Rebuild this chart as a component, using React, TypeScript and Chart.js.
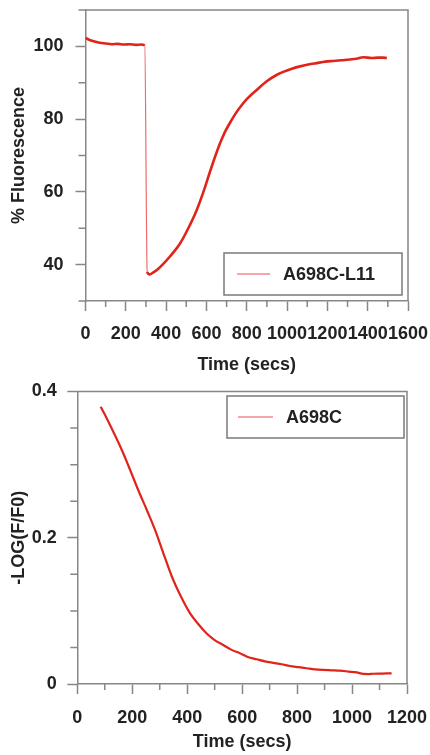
import React, { useEffect, useRef } from 'react';
import { Chart, registerables } from 'chart.js';

Chart.register(...registerables);

const FONT = "'Liberation Sans', Arial, Helvetica, sans-serif";
const AXIS_GRAY = '#878787';
const TEXT = '#222222';
const LINE_RED = '#e0241a';
const SAMPLE_RED = '#ec5050';

// ---------- Top panel: % Fluorescence vs time ----------
const topLabel = 'A698C-L11';
const topXTitle = 'Time (secs)';
const topYTitle = '% Fluorescence';
const topTime = [0, 15, 40, 70, 100, 130, 160, 190, 220, 250, 275, 294, 306, 318, 335, 360, 386, 420, 469, 510, 551, 585, 618, 645, 667, 692, 717, 742, 766, 800, 849, 899, 950, 981, 1020, 1064, 1105, 1147, 1190, 1229, 1270, 1312, 1345, 1378, 1420, 1450, 1477, 1495];
const topFluor = [102.3, 101.9, 101.4, 101.0, 100.8, 100.6, 100.7, 100.5, 100.6, 100.4, 100.5, 100.3, 38.0, 37.3, 37.8, 38.8, 40.2, 42.3, 45.8, 50.0, 54.9, 60.0, 65.6, 70.0, 73.3, 76.5, 79.0, 81.3, 83.2, 85.5, 88.0, 90.4, 92.2, 93.0, 93.8, 94.5, 95.0, 95.4, 95.8, 96.0, 96.2, 96.4, 96.6, 97.0, 96.8, 96.9, 96.9, 96.8];
const topXMajor = [0, 200, 400, 600, 800, 1000, 1200, 1400, 1600];
const topXMinor = [100, 300, 500, 700, 900, 1100, 1300, 1500];
const topYMajor = [40, 60, 80, 100];
const topYMinor = [30, 50, 70, 90, 110];

// ---------- Bottom panel: -LOG(F/F0) vs time ----------
const botLabel = 'A698C';
const botXTitle = 'Time (secs)';
const botYTitle = '-LOG(F/F0)';
const botTime = [85, 107, 131, 162, 192, 222, 253, 283, 313, 344, 374, 410, 440, 471, 500, 531, 560, 592, 620, 653, 683, 713, 744, 774, 805, 835, 865, 895, 926, 956, 987, 1017, 1041, 1060, 1077, 1110, 1144];
const botLog = [0.379, 0.3635, 0.345, 0.32, 0.293, 0.265, 0.238, 0.2107, 0.179, 0.147, 0.122, 0.097, 0.082, 0.069, 0.06, 0.0534, 0.047, 0.042, 0.037, 0.0338, 0.031, 0.029, 0.027, 0.0246, 0.023, 0.0215, 0.02, 0.0192, 0.0187, 0.0182, 0.017, 0.0158, 0.0138, 0.0136, 0.014, 0.0143, 0.0146];
const botXMajor = [0, 200, 400, 600, 800, 1000, 1200];
const botXMinor = [100, 300, 500, 700, 900, 1100];
const botYMajor = [0, 0.2, 0.4];
const botYMinor = [0.05, 0.1, 0.15, 0.25, 0.3, 0.35];

const tickFont = { family: FONT, size: 18, weight: 'bold' as const, lineHeight: 1.2 };
const titleFont = { family: FONT, size: 18, weight: 'bold' as const, lineHeight: 1.2 };

type LegendSpec = {
  anchor: 'br' | 'tr';
  right: number;
  edge: number;
  w: number;
  h: number;
  lineStart: number;
  lineEnd: number;
  textX: number;
};

function makeFramePlugin(xMinor: number[], yMinor: number[], legend: LegendSpec) {
  return {
    id: 'frameAndLegend',
    afterDraw(chart: any) {
      const { ctx, chartArea: a, scales } = chart;
      ctx.save();
      // top & right frame
      ctx.strokeStyle = AXIS_GRAY;
      ctx.lineWidth = 1.5;
      ctx.beginPath();
      ctx.moveTo(a.left, a.top);
      ctx.lineTo(a.right, a.top);
      ctx.lineTo(a.right, a.bottom);
      ctx.stroke();
      // minor ticks
      ctx.beginPath();
      for (const v of xMinor) {
        const px = scales.x.getPixelForValue(v);
        ctx.moveTo(px, a.bottom);
        ctx.lineTo(px, a.bottom + 6);
      }
      for (const v of yMinor) {
        const py = scales.y.getPixelForValue(v);
        ctx.moveTo(a.left, py);
        ctx.lineTo(a.left - 7, py);
      }
      ctx.stroke();
      // legend box
      const bx = a.right - legend.right - legend.w;
      const by = legend.anchor === 'br' ? a.bottom - legend.edge - legend.h : a.top + legend.edge;
      ctx.fillStyle = '#ffffff';
      ctx.fillRect(bx, by, legend.w, legend.h);
      ctx.strokeStyle = '#7a7a7a';
      ctx.lineWidth = 1.5;
      ctx.strokeRect(bx, by, legend.w, legend.h);
      const cy = by + legend.h / 2;
      ctx.strokeStyle = SAMPLE_RED;
      ctx.lineWidth = 1.2;
      ctx.beginPath();
      ctx.moveTo(bx + legend.lineStart, cy);
      ctx.lineTo(bx + legend.lineEnd, cy);
      ctx.stroke();
      ctx.fillStyle = TEXT;
      ctx.font = `bold 18px ${FONT}`;
      ctx.textBaseline = 'middle';
      ctx.textAlign = 'left';
      ctx.fillText(chart.data.datasets[0].label, bx + legend.textX, cy + 1);
      ctx.restore();
    },
  };
}

function makeConfig(p: {
  label: string; xs: number[]; ys: number[]; xMin: number; xMax: number; yMin: number; yMax: number;
  xMajor: number[]; yMajor: number[]; xMinor: number[]; yMinor: number[];
  xTitle: string; yTitle: string; padTop: number; padRight: number; yWidth: number; xHeight: number;
  xLabelPad: number; yLabelPad: number; xTitlePad: number; yTitlePad: number; lineWidth: number;
  fmtY: (v: number) => string; legend: LegendSpec;
}) {
  return {
    type: 'line' as const,
    data: {
      datasets: [
        {
          label: p.label,
          data: p.xs.map((x, i) => ({ x, y: p.ys[i] })),
          borderColor: LINE_RED,
          borderWidth: p.lineWidth,
          pointRadius: 0,
          fill: false,
          cubicInterpolationMode: 'monotone' as const,
          segment: {
            borderWidth: (c: any) => (Math.abs(c.p1.parsed.y - c.p0.parsed.y) > 20 ? 1.2 : undefined),
            borderColor: (c: any) => (Math.abs(c.p1.parsed.y - c.p0.parsed.y) > 20 ? 'rgba(232,70,70,0.8)' : undefined),
          },
        },
      ],
    },
    options: {
      responsive: false,
      animation: false as const,
      layout: { padding: { left: 0, top: p.padTop, right: p.padRight, bottom: 0 } },
      plugins: { legend: { display: false }, tooltip: { enabled: false } },
      scales: {
        x: {
          type: 'linear' as const,
          min: p.xMin,
          max: p.xMax,
          afterBuildTicks: (s: any) => { s.ticks = p.xMajor.map((v) => ({ value: v })); },
          afterFit: (s: any) => { s.height = p.xHeight; s.paddingLeft = 0; s.paddingRight = 0; s.paddingTop = 0; s.paddingBottom = 0; },
          ticks: {
            autoSkip: false, maxRotation: 0, minRotation: 0, padding: p.xLabelPad, color: TEXT, font: tickFont,
            callback: (v: any) => String(v),
          },
          grid: { drawOnChartArea: false, drawTicks: true, tickLength: 10, tickColor: AXIS_GRAY, tickWidth: 1.5, color: AXIS_GRAY },
          border: { display: true, color: AXIS_GRAY, width: 1.5 },
          title: { display: true, text: p.xTitle, color: TEXT, font: titleFont, padding: { top: 0, bottom: p.xTitlePad } },
        },
        y: {
          type: 'linear' as const,
          min: p.yMin,
          max: p.yMax,
          afterBuildTicks: (s: any) => { s.ticks = p.yMajor.map((v) => ({ value: v })); },
          afterFit: (s: any) => { s.width = p.yWidth; s.paddingLeft = 0; s.paddingRight = 0; s.paddingTop = 0; s.paddingBottom = 0; },
          ticks: {
            autoSkip: false, padding: p.yLabelPad, color: TEXT, font: tickFont,
            callback: (v: any) => p.fmtY(v),
          },
          grid: { drawOnChartArea: false, drawTicks: true, tickLength: 10, tickColor: AXIS_GRAY, tickWidth: 1.5, color: AXIS_GRAY },
          border: { display: true, color: AXIS_GRAY, width: 1.5 },
          title: { display: true, text: p.yTitle, color: TEXT, font: titleFont, padding: { top: p.yTitlePad, bottom: 0 } },
        },
      },
    },
    plugins: [makeFramePlugin(p.xMinor, p.yMinor, p.legend)],
  };
}

export default function App() {
  const topRef = useRef<HTMLCanvasElement>(null);
  const botRef = useRef<HTMLCanvasElement>(null);

  useEffect(() => {
    Chart.defaults.font.family = FONT;
    const c1 = new Chart(topRef.current as HTMLCanvasElement, makeConfig({
      label: topLabel, xs: topTime, ys: topFluor, xMin: 0, xMax: 1600, yMin: 30, yMax: 110,
      xMajor: topXMajor, yMajor: topYMajor, xMinor: topXMinor, yMinor: topYMinor,
      xTitle: topXTitle, yTitle: topYTitle, padTop: 10, padRight: 22, yWidth: 85.5, xHeight: 79,
      xLabelPad: 12, yLabelPad: 12, xTitlePad: 4, yTitlePad: 8, lineWidth: 2.6,
      fmtY: (v) => String(v),
      legend: { anchor: 'br', right: 6, edge: 6, w: 178, h: 42, lineStart: 13, lineEnd: 46, textX: 59 },
    }) as any);
    const c2 = new Chart(botRef.current as HTMLCanvasElement, makeConfig({
      label: botLabel, xs: botTime, ys: botLog, xMin: 0, xMax: 1200, yMin: 0, yMax: 0.4,
      xMajor: botXMajor, yMajor: botYMajor, xMinor: botXMinor, yMinor: botYMinor,
      xTitle: botXTitle, yTitle: botYTitle, padTop: 11.5, padRight: 23, yWidth: 77.3, xHeight: 71,
      xLabelPad: 13.5, yLabelPad: 10.5, xTitlePad: 2.5, yTitlePad: 8, lineWidth: 2.2,
      fmtY: (v) => (v === 0 ? '0' : String(v)),
      legend: { anchor: 'tr', right: 3, edge: 4.5, w: 177, h: 42, lineStart: 11, lineEnd: 46, textX: 59 },
    }) as any);
    return () => { c1.destroy(); c2.destroy(); };
  }, []);

  return (
    <div style={{ position: 'absolute', left: 0, top: 0, width: 430, height: 755, background: '#ffffff' }}>
      <canvas ref={topRef} width={430} height={380} style={{ position: 'absolute', left: 0, top: 0, display: 'block' }} />
      <canvas ref={botRef} width={430} height={375} style={{ position: 'absolute', left: 0, top: 380, display: 'block' }} />
    </div>
  );
}
